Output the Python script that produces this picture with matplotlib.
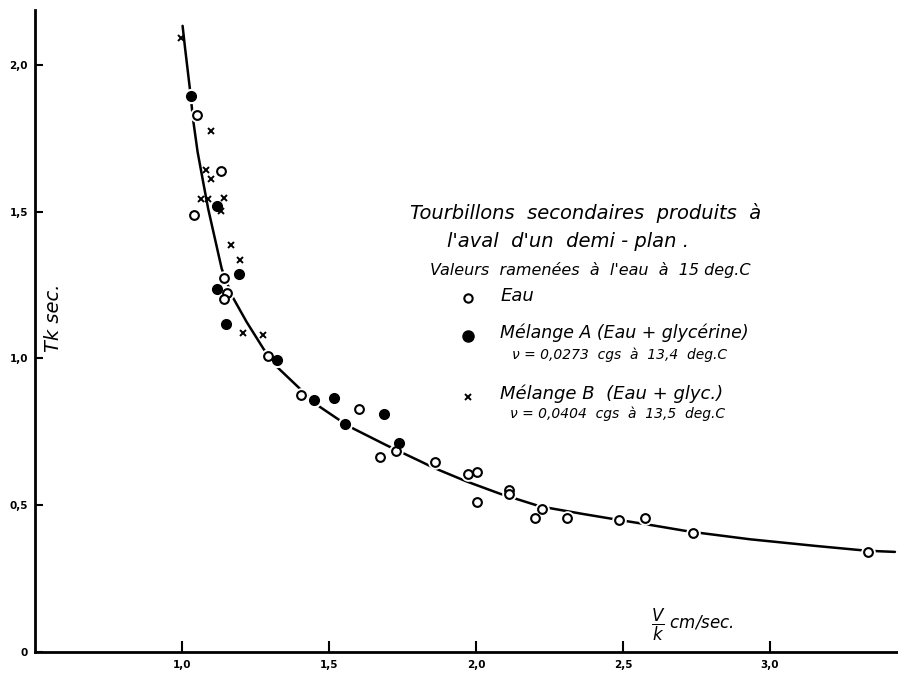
import matplotlib
matplotlib.use("Agg")
import matplotlib.pyplot as plt

# ---- data ----
eau_x = [1.050, 1.132, 1.042, 1.143, 1.154, 1.143, 1.292, 1.406, 1.603, 1.728, 1.673,
         1.861, 1.972, 2.002, 2.113, 2.111, 2.004, 2.225, 2.201, 2.308, 2.486, 2.575,
         2.737, 3.332]
eau_y = [1.829, 1.637, 1.488, 1.274, 1.224, 1.204, 1.009, 0.877, 0.827, 0.686, 0.664,
         0.647, 0.606, 0.613, 0.553, 0.538, 0.511, 0.487, 0.455, 0.455, 0.451, 0.457,
         0.407, 0.341]

melA_x = [1.032, 1.118, 1.193, 1.118, 1.150, 1.324, 1.448, 1.518, 1.554, 1.688, 1.738]
melA_y = [1.894, 1.519, 1.286, 1.237, 1.117, 0.995, 0.857, 0.865, 0.777, 0.811, 0.711]

melB_x = [0.997, 1.099, 1.082, 1.098, 1.064, 1.087, 1.143, 1.133, 1.168, 1.197, 1.209, 1.274]
melB_y = [2.090, 1.774, 1.641, 1.610, 1.542, 1.542, 1.545, 1.502, 1.386, 1.337, 1.085, 1.079]

curve_x = [1.002, 1.010, 1.027, 1.038, 1.053, 1.072, 1.089, 1.112, 1.135, 1.169, 1.220,
           1.277, 1.316, 1.401, 1.469, 1.537, 1.583, 1.696, 1.810, 1.855, 1.968, 2.082,
           2.218, 2.365, 2.479, 2.592, 2.728, 2.932, 3.159, 3.329, 3.425]
curve_y = [2.133, 2.061, 1.917, 1.812, 1.704, 1.601, 1.510, 1.408, 1.306, 1.215, 1.124,
           1.033, 0.978, 0.897, 0.835, 0.789, 0.761, 0.704, 0.650, 0.628, 0.581, 0.539,
           0.496, 0.470, 0.451, 0.433, 0.410, 0.384, 0.361, 0.345, 0.341]

x_ticks = [1.0, 1.5, 2.0, 2.5, 3.0]
x_ticklabels = ["1,0", "1,5", "2,0", "2,5", "3,0"]
y_ticks = [0, 0.5, 1.0, 1.5, 2.0]
y_ticklabels = ["0", "0,5", "1,0", "1,5", "2,0"]

title1 = "Tourbillons  secondaires  produits  à"
title2 = "l'aval  d'un  demi - plan ."
title3 = "Valeurs  ramenées  à  l'eau  à  15 deg.C"
lab_eau = "Eau"
lab_A = "Mélange A (Eau + glycérine)"
nu_A = "ν = 0,0273  cgs  à  13,4  deg.C"
lab_B = "Mélange B  (Eau + glyc.)"
nu_B = "ν = 0,0404  cgs  à  13,5  deg.C"

# ---- figure ----
fig = plt.figure(figsize=(8.98, 6.77), dpi=100)
ax = fig.add_axes([35 / 898, 25 / 677, 862 / 898, 642 / 677])
ax.set_xlim(0.5, 3.432)
ax.set_ylim(0, 2.187)

for s in ["top", "right"]:
    ax.spines[s].set_visible(False)
for s in ["left", "bottom"]:
    ax.spines[s].set_linewidth(2.0)

ax.plot(curve_x, curve_y, color="black", lw=1.8, zorder=2, solid_capstyle="round")

# white halos giving the hand-drawn breaks in the curve
ax.plot(eau_x, eau_y, ls="none", marker="o", ms=9.5, mfc="white", mec="white", zorder=3)
ax.plot(melA_x, melA_y, ls="none", marker="o", ms=10, mfc="white", mec="white", zorder=3)

ax.plot(eau_x, eau_y, ls="none", marker="o", ms=6.3, mfc="white", mec="black", mew=1.5, zorder=4)
ax.plot(melA_x, melA_y, ls="none", marker="o", ms=7, mfc="black", mec="black", zorder=4)
ax.plot(melB_x, melB_y, ls="none", marker="x", ms=5, mec="black", mew=1.4, zorder=4)

ax.set_xticks(x_ticks)
ax.set_xticklabels(x_ticklabels, fontsize=7.5, fontweight="bold")
ax.set_yticks(y_ticks)
ax.set_yticklabels(y_ticklabels, fontsize=7.5, fontweight="bold")
ax.tick_params(axis="x", direction="in", length=8, width=1.5, pad=6)
ax.tick_params(axis="y", direction="in", length=6, width=1.5, pad=5)

tf = dict(family="DejaVu Sans", style="italic", color="black", va="center", ha="left")
ax.text(1.776, 1.496, title1, fontsize=14, **tf)
ax.text(1.901, 1.397, title2, fontsize=14, **tf)
ax.text(1.844, 1.301, title3, fontsize=11.5, **tf)
ax.text(2.082, 1.213, lab_eau, fontsize=13, **tf)
ax.text(2.082, 1.087, lab_A, fontsize=12.5, **tf)
ax.text(2.122, 1.012, nu_A, fontsize=10, **tf)
ax.text(2.082, 0.879, lab_B, fontsize=13, **tf)
ax.text(2.116, 0.811, nu_B, fontsize=10, **tf)

# legend keys
ax.plot([1.973], [1.206], ls="none", marker="o", ms=6, mfc="white", mec="black", mew=1.5,
        clip_on=False)
ax.plot([1.973], [1.077], ls="none", marker="o", ms=8, mfc="black", mec="black", clip_on=False)
ax.plot([1.973], [0.869], ls="none", marker="x", ms=5, mec="black", mew=1.4, clip_on=False)

ax.text(0.562, 1.138, "Tk sec.", rotation=90, fontsize=14, family="DejaVu Sans",
        style="italic", ha="center", va="center")
ax.text(2.595, 0.092, r"$\dfrac{V}{k}$ cm/sec.", fontsize=12, family="DejaVu Sans",
        style="italic", ha="left", va="center")

fig.savefig("out.png", dpi=100)
